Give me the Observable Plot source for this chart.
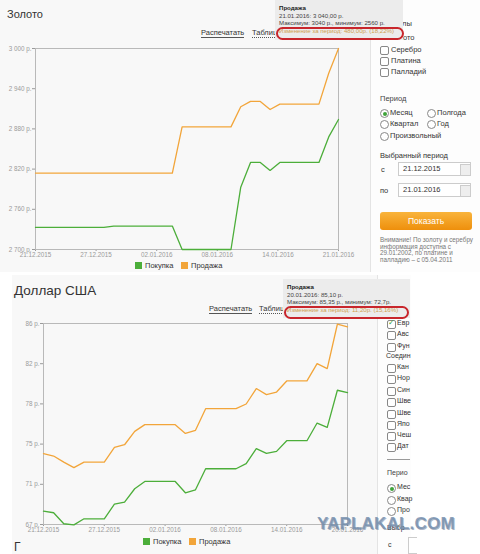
<!DOCTYPE html>
<html><head><meta charset="utf-8">
<script src="https://cdn.jsdelivr.net/npm/d3@7"></script>
<script src="https://cdn.jsdelivr.net/npm/@observablehq/plot@0.6"></script>
<style>
body{margin:0;width:480px;height:554px;background:#fff;font-family:"Liberation Sans",Arial,sans-serif;position:relative;overflow:hidden;color:#333}
.abs{position:absolute;white-space:nowrap}
.panel{position:absolute}
.lnk{position:absolute;font-size:7.5px;color:#333;border-bottom:1px solid #555;line-height:8px}
.tip{position:absolute;background:#ececec;font-size:6.1px;color:#444;line-height:7.6px;padding:4px 4px;white-space:nowrap}
.tip b{color:#222}
.chg{color:#d0a050}
.oval{position:absolute;border:2px solid #c8262c;border-radius:7px}
.cb{position:absolute;width:7px;height:7px;border:1px solid #888;border-radius:2px;background:#fff}
.rd{position:absolute;width:7px;height:7px;border:1px solid #888;border-radius:50%;background:#fff}
.rd.on::after{content:"";position:absolute;left:1.5px;top:1.5px;width:4px;height:4px;border-radius:50%;background:#3fa33a}
.t7{font-size:7.5px;color:#333}
.t6{font-size:7px;color:#333}
.sw{position:absolute;width:7px;height:7px}
.inp{position:absolute;border:1px solid #ccc;background:#fff;font-size:7.5px;color:#333;box-sizing:border-box;padding:1px 4px}
</style></head><body>
<div id="root"></div>
<script>
// ---------- data ----------
const goldDates = ["2015-12-21","2015-12-28","2015-12-29","2016-01-04","2016-01-05","2016-01-10","2016-01-11","2016-01-12","2016-01-13","2016-01-14","2016-01-15","2016-01-19","2016-01-20","2016-01-21"];
const goldSell = [2814, 2814, 2814, 2814, 2883, 2883, 2913, 2921, 2921, 2909, 2917, 2917, 2963, 3000];
const goldBuy  = [2733, 2733, 2735, 2735, 2700, 2700, 2793, 2830, 2830, 2818, 2830, 2830, 2868, 2894];
const goldXTicks = ["2015-12-21T00:00Z","2015-12-27T04:48Z","2016-01-02T09:36Z","2016-01-08T14:24Z","2016-01-14T19:12Z","2016-01-21T00:00Z"];
const goldYTicks = [2700, 2760, 2820, 2880, 2940, 3000];

const usdDates = ["2015-12-21","2015-12-22","2015-12-23","2015-12-24","2015-12-25","2015-12-27","2015-12-28","2015-12-29","2015-12-30","2015-12-31","2016-01-03","2016-01-04","2016-01-05","2016-01-06","2016-01-09","2016-01-10","2016-01-11","2016-01-12","2016-01-13","2016-01-14","2016-01-16","2016-01-17","2016-01-18","2016-01-19","2016-01-20"];
const usdSell = [73.69, 73.47, 72.9, 72.37, 72.9, 72.9, 74.29, 74.54, 75.8, 76.44, 76.44, 75.61, 75.9, 77.95, 77.95, 78.39, 79.85, 79.28, 79.52, 80.57, 80.57, 82.21, 81.74, 85.93, 85.68];
const usdBuy  = [68.26, 68.11, 67.07, 66.97, 67.54, 67.54, 68.92, 69.11, 70.38, 71.07, 71.07, 70.0, 70.28, 72.27, 72.27, 72.75, 74.17, 73.72, 73.91, 74.92, 74.92, 76.59, 76.18, 79.69, 79.47];
const usdXTicks = ["2015-12-21","2015-12-27","2016-01-02","2016-01-08","2016-01-14","2016-01-20"];
const usdYTicks = [67, 70.8, 74.6, 78.4, 82.2, 86];

const seriesNames = ["Покупка", "Продажа"];
const GREEN = "#4cae3a", ORANGE = "#f2a53a";

// ---------- helpers ----------
const P = d => new Date(d.length === 10 ? d + "T00:00Z" : d);
const rows = (dates, vals) => dates.map((d, i) => ({date: P(d), value: vals[i]}));
const fmtDate = d3.utcFormat("%d.%m.%Y");
const root = document.getElementById("root");
function el(html){ const t = document.createElement("div"); t.innerHTML = html; while (t.firstChild) root.appendChild(t.firstChild); }

function chart({dates, buy, sell, xTicks, yTicks, yDomain, yFmt, left, top, width, height, mL, mR, mT, mB, xDomain}) {
  const svg = Plot.plot({
    width, height, marginLeft: mL, marginRight: mR, marginTop: mT, marginBottom: mB,
    style: {background: "transparent", fontFamily: "Liberation Sans, Arial, sans-serif", fontSize: "6.3px", color: "#9a9a9a", overflow: "visible"},
    x: {type: "utc", domain: xDomain, ticks: xTicks.map(P), tickFormat: fmtDate, tickSize: 2, tickPadding: 1, label: null},
    y: {domain: yDomain, ticks: yTicks, tickFormat: yFmt, tickSize: 3, tickPadding: 1, label: null},
    marks: [
      Plot.frame({stroke: "#b9b9b9"}),
      Plot.line(rows(dates, sell), {x: "date", y: "value", stroke: ORANGE, strokeWidth: 1.3}),
      Plot.line(rows(dates, buy), {x: "date", y: "value", stroke: GREEN, strokeWidth: 1.3})
    ]
  });
  svg.style.position = "absolute"; svg.style.left = left + "px"; svg.style.top = top + "px";
  root.appendChild(svg);
}

// ---------- backgrounds ----------
el(`<div class="panel" style="left:0;top:0;width:370px;height:272px;background:#f8f8f8"></div>`);
el(`<div class="panel" style="left:370px;top:0;width:110px;height:272px;background:#fdfdfd;border-left:1px solid #e4e4e4"></div>`);
el(`<div class="panel" style="left:12px;top:275px;width:365px;height:279px;background:#f8f8f8"></div>`);
el(`<div class="panel" style="left:377px;top:275px;width:33px;height:279px;background:#fdfdfd;border-left:1px solid #e4e4e4"></div>`);

// ---------- gold ----------
el(`<div class="abs" style="left:7px;top:8px;font-size:11px;color:#333">Золото</div>`);
el(`<div class="lnk" style="left:201px;top:29px">Распечатать</div>`);
el(`<div class="lnk" style="left:252px;top:29px;border-bottom:1px dotted #555">Таблиц</div>`);
chart({dates: goldDates, buy: goldBuy, sell: goldSell, xTicks: goldXTicks, yTicks: goldYTicks,
  yDomain: [2700, 3000], xDomain: [P(goldXTicks[0]), P(goldXTicks[5])],
  yFmt: v => d3.format(",")(v).replace(/,/g, " ") + " р.",
  left: 0, top: 40, width: 372, height: 235, mL: 35, mR: 34, mT: 8, mB: 26});
el(`<div class="sw" style="left:135px;top:262px;background:${GREEN}"></div><div class="abs t7" style="left:145px;top:261px">${seriesNames[0]}</div>`);
el(`<div class="sw" style="left:181px;top:262px;background:${ORANGE}"></div><div class="abs t7" style="left:191px;top:261px">${seriesNames[1]}</div>`);
// gold side panel
el(`<div class="abs t7" style="left:402px;top:19px">лы</div><div class="abs t7" style="left:403px;top:33px">ото</div>`);
[["Серебро",46],["Платина",57],["Палладий",68]].forEach(([t,y]) => el(`<div class="cb" style="left:380px;top:${y}px"></div><div class="abs t7" style="left:391px;top:${y-1}px">${t}</div>`));
el(`<div class="abs" style="left:380px;top:94px;font-size:7.5px;color:#444">Период</div>`);
[["Месяц",380,109,true],["Полгода",427,109,false],["Квартал",380,120,false],["Год",427,120,false],["Произвольный",380,132,false]].forEach(([t,x,y,on]) =>
  el(`<div class="rd ${on?'on':''}" style="left:${x}px;top:${y}px"></div><div class="abs t7" style="left:${x+10}px;top:${y-1}px">${t}</div>`));
el(`<div class="abs t7" style="left:380px;top:151px">Выбранный период</div>`);
el(`<div class="abs t7" style="left:381px;top:165px">с</div><div class="inp" style="left:398px;top:162px;width:73px;height:14px">21.12.2015</div><div class="panel" style="left:460px;top:164px;width:9px;height:10px;background:#eee;border:1px solid #ccc"></div>`);
el(`<div class="abs t7" style="left:380px;top:186px">по</div><div class="inp" style="left:398px;top:183px;width:73px;height:14px">21.01.2016</div><div class="panel" style="left:460px;top:185px;width:9px;height:10px;background:#eee;border:1px solid #ccc"></div>`);
el(`<div class="panel" style="left:380px;top:212px;width:92px;height:18px;border-radius:3px;background:linear-gradient(#f9b43c,#ee8f0c);color:#fff;font-size:8.5px;text-align:center;line-height:18px">Показать</div>`);
el(`<div class="abs" style="left:380px;top:237px;font-size:6.3px;line-height:6.7px;color:#777;white-space:normal;width:95px">Внимание! По золоту и серебру информация доступна с 29.01.2002, по платине и палладию – с 05.04.2011</div>`);
// gold tooltip
el(`<div class="tip" style="left:275px;top:0;width:120px;height:32px"><b>Продажа</b><br>21.01.2016: 3 040,00 р.<br>Максимум: 3040 р., минимум: 2560 р.<br><span class="chg">Изменение за период: 480,00р. (18,22%)</span></div>`);
el(`<div class="oval" style="left:276px;top:27px;width:124px;height:9px"></div>`);

// ---------- dollar ----------
el(`<div class="abs" style="left:14px;top:283px;font-size:13.5px;color:#333">Доллар США</div>`);
el(`<div class="lnk" style="left:209px;top:305px">Распечатать</div>`);
el(`<div class="lnk" style="left:259px;top:305px;border-bottom:1px dotted #555">Таблиц</div>`);
chart({dates: usdDates, buy: usdBuy, sell: usdSell, xTicks: usdXTicks, yTicks: usdYTicks,
  yDomain: [67, 86], xDomain: [P(usdXTicks[0]), P(usdXTicks[5])],
  yFmt: v => Math.round(v) + " р.",
  left: 0, top: 315, width: 376, height: 235, mL: 43, mR: 29, mT: 8, mB: 26});
el(`<div class="sw" style="left:143px;top:538px;background:${GREEN}"></div><div class="abs t7" style="left:153px;top:537px">${seriesNames[0]}</div>`);
el(`<div class="sw" style="left:189px;top:538px;background:${ORANGE}"></div><div class="abs t7" style="left:199px;top:537px">${seriesNames[1]}</div>`);
el(`<div class="abs" style="left:14px;top:540px;font-size:12px;color:#333">Г</div>`);
// dollar side panel (visible fragments only)
let s = "";
[["Евр",324,true],["Авс",335],["Фун",347],["Соедин",356,null],["Кан",368],["Нор",379],["Син",391],["Шве",402],["Шве",414],["Япо",425],["Чеш",436],["Дат",447]].forEach(([t,y,c]) => {
  if (c === null) { s += `<div class="abs t6" style="left:386px;top:${y-4}px">${t}</div>`; return; }
  s += `<div class="cb" style="left:387px;top:${y-4}px">${c?'<span style="position:absolute;left:0;top:-3px;font-size:8px;color:#3fa33a">✓</span>':''}</div><div class="abs t6" style="left:397px;top:${y-5}px">${t}</div>`;
});
s += `<div class="panel" style="left:387px;top:459px;width:23px;height:1px;background:#999"></div>`;
s += `<div class="abs t6" style="left:387px;top:469px;color:#444">Перио</div>`;
[["Мес",488,true],["Квар",500],["Про",511]].forEach(([t,y,on]) => s += `<div class="rd ${on?'on':''}" style="left:387px;top:${y-4}px"></div><div class="abs t6" style="left:397px;top:${y-5}px">${t}</div>`);
s += `<div class="abs t6" style="left:387px;top:524px">Выбр</div>`;
s += `<div class="abs t6" style="left:388px;top:541px">с</div><div class="inp" style="left:408px;top:537px;width:2px;height:17px;border-right:none"></div>`;
el(s);
// dollar tooltip
el(`<div class="tip" style="left:283px;top:279px;width:119px;height:31px"><b>Продажа</b><br>20.01.2016: 85,10 р.<br>Максимум: 85,35 р., минимум: 72,7р.<br><span class="chg">Изменение за период: 11,20р. (15,16%)</span></div>`);
el(`<div class="oval" style="left:284px;top:306px;width:121px;height:9px"></div>`);

// watermark
el(`<div class="abs" style="left:317px;top:514px;font-size:17px;font-weight:bold;color:rgba(120,145,175,0.85);letter-spacing:0.2px;text-shadow:1px 1px 0 rgba(90,110,140,0.5)">YAPLAKAL.COM</div>`);
</script>
</body></html>
